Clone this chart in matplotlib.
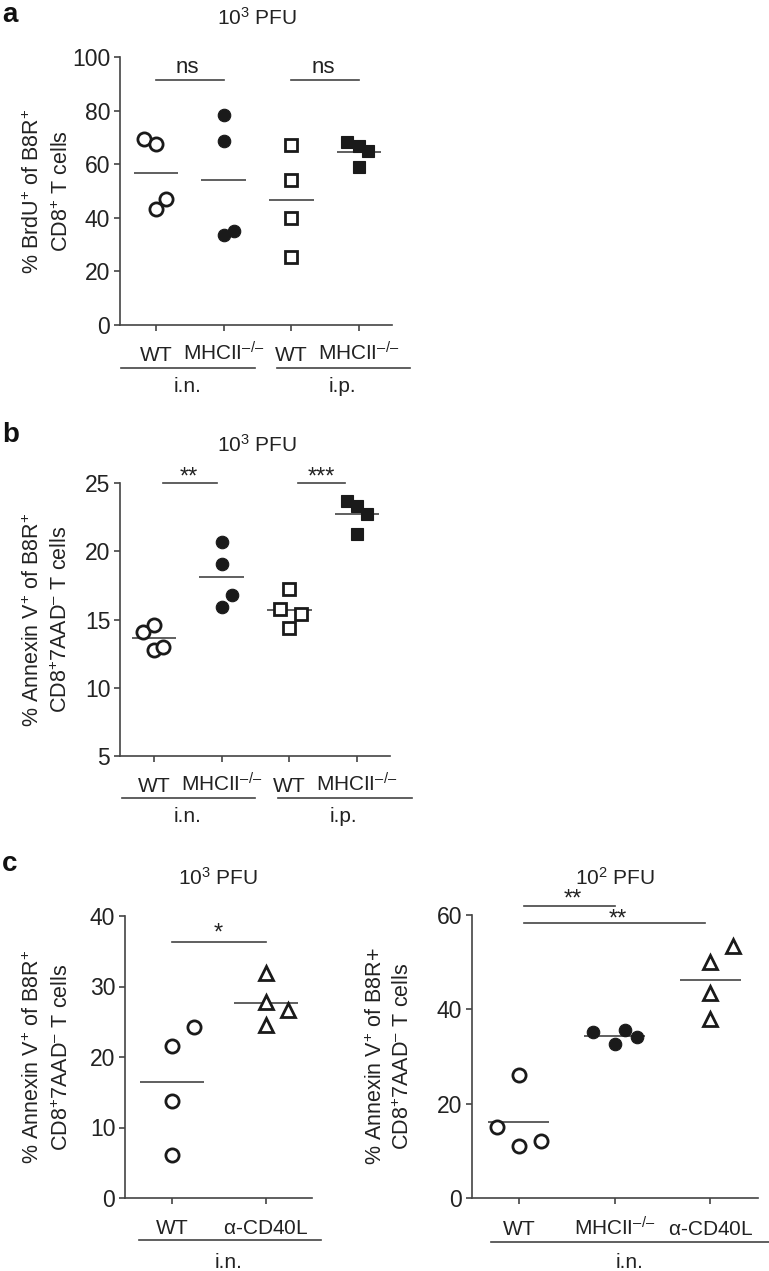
import numpy as np
import matplotlib
matplotlib.use("Agg")
import matplotlib.pyplot as plt

plt.rcParams['font.family'] = ['Liberation Sans', 'DejaVu Sans']
plt.rcParams['mathtext.fontset'] = 'custom'
plt.rcParams['mathtext.rm'] = 'Liberation Sans'
plt.rcParams['mathtext.it'] = 'Liberation Sans:italic'
plt.rcParams['mathtext.bf'] = 'Liberation Sans:bold'
plt.rcParams['mathtext.default'] = 'regular'

# ---------------- data ----------------
WT = r"$\mathregular{WT}$"
KO = r"$\mathregular{MHCII}^{–/–}$"
CD40L = r"$\mathregular{α}$-CD40L"
# panel a: % BrdU+ (10^3 PFU)
a_groups = [WT, KO, WT, KO]
a_wt_in = [69.4, 67.6, 43.2, 47.1]
a_ko_in = [78.5, 68.5, 33.6, 35.1]
a_wt_ip = [67.2, 54.2, 39.9, 25.5]
a_ko_ip = [68.1, 66.9, 64.8, 58.8]
a_jit = [[-0.18, 0, 0, 0.15], [0, 0, 0, 0.16], [0, 0, 0, 0], [-0.18, 0, 0.14, 0]]
a_yticks = [0, 20, 40, 60, 80, 100]

# panel b: % Annexin V+ (10^3 PFU)
b_groups = [WT, KO, WT, KO]
b_wt_in = [14.1, 14.6, 12.8, 13.0]
b_ko_in = [20.7, 19.1, 16.8, 15.9]
b_wt_ip = [17.2, 15.75, 15.4, 14.4]
b_ko_ip = [23.7, 23.3, 22.7, 21.25]
b_jit = [[-0.16, 0, 0, 0.14], [0, 0, 0.15, 0], [0, -0.13, 0.17, 0], [-0.15, 0, 0.15, 0]]
b_yticks = [5, 10, 15, 20, 25]

# panel c left: 10^3 PFU
cl_groups = [WT, CD40L]
cl_wt = [6.1, 13.8, 21.6, 24.2]
cl_cd40l = [31.9, 27.8, 26.7, 24.5]
cl_jit = [[0, 0, 0, 0.23], [0, 0, 0.23, 0]]
cl_yticks = [0, 10, 20, 30, 40]

# panel c right: 10^2 PFU
cr_groups = [WT, KO, CD40L]
cr_wt = [15.0, 26.1, 11.1, 12.0]
cr_ko = [35.1, 32.7, 35.6, 34.2]
cr_cd40l = [53.4, 50.0, 43.5, 38.0]
cr_jit = [[-0.23, 0, 0, 0.23], [-0.23, 0, 0.11, 0.23], [0.24, 0, 0, 0]]
cr_yticks = [0, 20, 40, 60]

# ---------------- figure ----------------
W, H = 769, 1271
fig = plt.figure(figsize=(W / 100, H / 100), dpi=100)

INK = '#1a1a1a'
LINE = '#444444'
TXT = '#222222'
LAB_FS = 15
TICK_FS = 16.5
YLAB_FS = 15.5


def make_ax(l, r, t, b, xlim, ylim):
    ax = fig.add_axes([l / W, 1 - b / H, (r - l) / W, (b - t) / H])
    ax.set_xlim(*xlim)
    ax.set_ylim(*ylim)
    for s in ['top', 'right']:
        ax.spines[s].set_visible(False)
    for s in ['left', 'bottom']:
        ax.spines[s].set_color(LINE)
        ax.spines[s].set_linewidth(1.2)
    ax.tick_params(direction='out', length=4, width=1.2, color=LINE,
                   labelsize=TICK_FS, labelcolor=TXT, pad=3)
    ax.patch.set_visible(False)
    return ax


def yfrac(t, b, ypx):
    return (b - ypx) / (b - t)


def open_m(marker, ms):
    return dict(marker=marker, ms=ms, mfc='white', mec=INK, mew=2.0,
                linestyle='none', zorder=3, clip_on=False)


def fill_m(marker, ms):
    return dict(marker=marker, ms=ms, mfc=INK, mec=INK, mew=0.8,
                linestyle='none', zorder=3, clip_on=False)


def draw_group(ax, i, vals, jit, style, hw=0.33):
    x = i + np.array(jit)
    ax.plot(x, vals, **style)
    ax.hlines(np.mean(vals), i - hw, i + hw, color=LINE, lw=1.2, zorder=2)


def xlabels(ax, t, b, labels, base_px, groups, line_px, grp_base_px):
    tr = ax.get_xaxis_transform()
    ax.set_xticks(range(len(labels)))
    ax.set_xticklabels([])
    for i, lab in enumerate(labels):
        ax.text(i, yfrac(t, b, base_px), lab, transform=tr, ha='center',
                va='baseline', fontsize=LAB_FS, color=TXT, clip_on=False)
    for (x0, x1, xt, name) in groups:
        ax.plot([x0, x1], [yfrac(t, b, line_px)] * 2, transform=tr,
                color=LINE, lw=1.2, clip_on=False)
        ax.text(xt, yfrac(t, b, grp_base_px), name, transform=tr, ha='center',
                va='baseline', fontsize=LAB_FS, color=TXT, clip_on=False)


def sig(ax, x0, x1, y, label, xt, yt, fs=16):
    ax.plot([x0, x1], [y, y], color=LINE, lw=1.2, clip_on=False)
    ax.text(xt, yt, label, ha='center', va='center', fontsize=fs,
            color=TXT, clip_on=False)


def ylab2(xpx1, xpx2, ypx, l1, l2, fs=YLAB_FS):
    fig.text(xpx1 / W, 1 - ypx / H, l1, rotation=90, ha='center',
             va='center', fontsize=fs, color=TXT)
    fig.text(xpx2 / W, 1 - ypx / H, l2, rotation=90, ha='center',
             va='center', fontsize=fs, color=TXT)


def title(xpx, ypx, s):
    fig.text(xpx / W, 1 - ypx / H, s, ha='center', va='center',
             fontsize=15, color=TXT)


def letter(ypx, s):
    fig.text(2 / W, 1 - ypx / H, s, ha='left', va='center', fontsize=20,
             fontweight='bold', color='#111111')


# ---- panel a ----
t, b = 57, 325
ax = make_ax(120, 392, t, b, (-0.53, 3.49), (0, 100))
ax.set_yticks(a_yticks)
draw_group(ax, 0, a_wt_in, a_jit[0], open_m('o', 9.5))
draw_group(ax, 1, a_ko_in, a_jit[1], fill_m('o', 9))
draw_group(ax, 2, a_wt_ip, a_jit[2], open_m('s', 8.5))
draw_group(ax, 3, a_ko_ip, a_jit[3], fill_m('s', 8.5))
xlabels(ax, t, b, a_groups, 361,
        [(-0.52, 1.46, 0.47, 'i.n.'), (1.79, 3.75, 2.76, 'i.p.')], 368, 392)
sig(ax, 0, 1, 91.4, 'ns', 0.47, 96.0)
sig(ax, 2, 3, 91.4, 'ns', 2.47, 96.0)
title(257, 18, "10$^{3}$ PFU")
letter(15, 'a')
ylab2(33, 62, (t + b) / 2, "% BrdU$^{+}$ of B8R$^{+}$", "CD8$^{+}$ T cells")

# ---- panel b ----
t, b = 483, 756
ax = make_ax(120, 390, t, b, (-0.50, 3.49), (5, 25))
ax.set_yticks(b_yticks)
draw_group(ax, 0, b_wt_in, b_jit[0], open_m('o', 9.5))
draw_group(ax, 1, b_ko_in, b_jit[1], fill_m('o', 9))
draw_group(ax, 2, b_wt_ip, b_jit[2], open_m('s', 8.5))
draw_group(ax, 3, b_ko_ip, b_jit[3], fill_m('s', 8.5))
xlabels(ax, t, b, b_groups, 792,
        [(-0.47, 1.49, 0.5, 'i.n.'), (1.83, 3.81, 2.8, 'i.p.')], 798, 822)
sig(ax, 0.13, 0.93, 25.0, '**', 0.52, 25.38, fs=17)
sig(ax, 2.13, 2.82, 25.0, '***', 2.48, 25.38, fs=17)
title(257, 445, "10$^{3}$ PFU")
letter(435, 'b')
ylab2(33, 61, (t + b) / 2, "% Annexin V$^{+}$ of B8R$^{+}$",
      "CD8$^{+}$7AAD$^{–}$ T cells")

# ---- panel c left ----
t, b = 916, 1198
ax = make_ax(125, 312, t, b, (-0.5, 1.49), (0, 40))
ax.set_yticks(cl_yticks)
draw_group(ax, 0, cl_wt, cl_jit[0], open_m('o', 9.5), hw=0.34)
draw_group(ax, 1, cl_cd40l, cl_jit[1], open_m('^', 9.5), hw=0.34)
xlabels(ax, t, b, cl_groups, 1234, [(-0.35, 1.59, 0.6, 'i.n.')], 1240, 1268)
sig(ax, 0, 1, 36.3, '*', 0.49, 37.5, fs=17)
title(218, 878, "10$^{3}$ PFU")
letter(864, 'c')
ylab2(33, 62, (t + b) / 2, "% Annexin V$^{+}$ of B8R$^{+}$",
      "CD8$^{+}$7AAD$^{–}$ T cells")

# ---- panel c right ----
t, b = 915, 1198
ax = make_ax(472, 758, t, b, (-0.49, 2.5), (0, 60))
ax.set_yticks(cr_yticks)
draw_group(ax, 0, cr_wt, cr_jit[0], open_m('o', 9.5), hw=0.32)
draw_group(ax, 1, cr_ko, cr_jit[1], fill_m('o', 9), hw=0.32)
draw_group(ax, 2, cr_cd40l, cr_jit[2], open_m('^', 9.5), hw=0.32)
xlabels(ax, t, b, cr_groups, 1235, [(-0.29, 2.65, 1.16, 'i.n.')], 1242, 1268)
sig(ax, 0.05, 1.0, 62.0, '**', 0.56, 63.2, fs=17)
sig(ax, 0.05, 1.95, 58.4, '**', 1.03, 59.0, fs=17)
title(615, 878, "10$^{2}$ PFU")
ylab2(376, 403, (t + b) / 2, "% Annexin V$^{+}$ of B8R+",
      "CD8$^{+}$7AAD$^{–}$ T cells")

fig.savefig('out.png', dpi=100)
